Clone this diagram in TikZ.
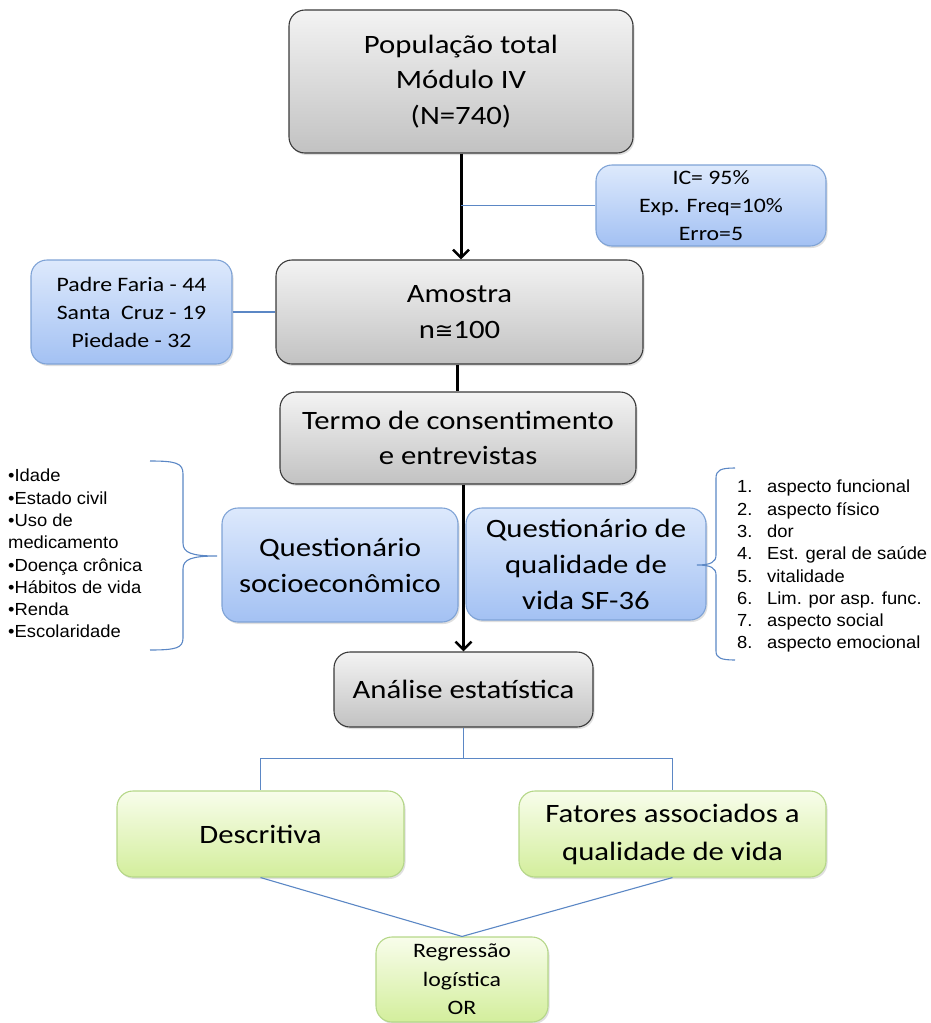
\documentclass[tikz,border=0pt]{standalone}
\usepackage{fontspec}
\setmainfont{Carlito}[FakeStretch=1.16]
\newfontfamily\arialf{Liberation Sans}[FakeStretch=1.05]
\newfontfamily\symf{DejaVu Sans}
\usetikzlibrary{shadows,arrows.meta}
\definecolor{gtop}{HTML}{F3F3F3}
\definecolor{gbot}{HTML}{C2C2C2}
\definecolor{gline}{HTML}{3A3A3A}
\definecolor{btop}{HTML}{DDE9FC}
\definecolor{bbot}{HTML}{A3C1F3}
\definecolor{bline}{HTML}{7FA3D6}
\definecolor{ntop}{HTML}{F8FDEB}
\definecolor{nbot}{HTML}{D3EE9C}
\definecolor{nline}{HTML}{B5D788}
\definecolor{conn}{HTML}{5B87C5}
\begin{document}
\begin{tikzpicture}[x=1pt,y=-1pt,
  box/.style={rounded corners=16pt, align=center, inner sep=0pt, line width=1.1pt, text=black,
    drop shadow={opacity=0.25, shadow xshift=1.5pt, shadow yshift=-2pt}},
  graybox/.style={box, draw=gline, top color=gtop, bottom color=gbot, font=\fontsize{26.5}{35.5}\selectfont},
  bluebig/.style={box, draw=bline, top color=btop, bottom color=bbot, font=\fontsize{26.5}{36}\selectfont},
  bluesmall/.style={box, draw=bline, top color=btop, bottom color=bbot, font=\fontsize{20.5}{28}\selectfont},
  greenbig/.style={box, draw=nline, top color=ntop, bottom color=nbot, font=\fontsize{26.5}{38}\selectfont},
  greensmall/.style={box, draw=nline, top color=ntop, bottom color=nbot, font=\fontsize{20.5}{28.5}\selectfont},
  mainarrow/.style={line width=3pt, black, -{Straight Barb[length=8pt,width=16pt,line width=2.5pt]}},
  mainline/.style={line width=3pt, black},
  thin/.style={conn, line width=1.1pt},
  listtext/.style={align=left, inner sep=0pt, font=\arialf\fontsize{17.5}{22.3}\selectfont}
]
\useasboundingbox (0,0) rectangle (931,1023);

% nodes
\node[graybox, minimum width=344pt, minimum height=143pt] (pop) at (461,81.5) {População total\\Módulo IV\\(N=740)};
\node[bluesmall, minimum width=230pt, minimum height=81pt] (ic) at (711,205.5) {IC= 95\%\\Exp. Freq=10\%\\Erro=5};
\node[graybox, minimum width=367pt, minimum height=104pt] (amostra) at (459.5,312) {Amostra\\n{\symf\fontsize{22}{22}\selectfont ≅}100};
\node[bluesmall, minimum width=201pt, minimum height=104pt] (padre) at (131.5,312) {Padre Faria - 44\\Santa~~Cruz - 19\\Piedade - 32};
\node[graybox, minimum width=356pt, minimum height=92pt] (termo) at (458,438) {Termo de consentimento\\e entrevistas};
\node[bluebig, minimum width=236pt, minimum height=114pt] (qse) at (340,565) {Questionário\\socioeconômico};
\node[bluebig, minimum width=240pt, minimum height=112pt] (qsf) at (586,564) {Questionário de\\qualidade de\\vida SF-36};
\node[graybox, minimum width=259pt, minimum height=75pt] (analise) at (463.5,689.5) {Análise estatística};
\node[greenbig, minimum width=287pt, minimum height=86pt] (desc) at (260.5,834) {Descritiva};
\node[greenbig, minimum width=307pt, minimum height=86pt] (fat) at (672.5,834) {Fatores associados a\\qualidade de vida};
\node[greensmall, minimum width=172pt, minimum height=85pt] (reg) at (462,979.5) {Regressão\\logística\\OR};

% lists
\node[listtext, anchor=north west] (leftlist) at (8,469) {•Idade\\•Estado civil\\•Uso de\\medicamento\\•Doença crônica\\•Hábitos de vida\\•Renda\\•Escolaridade};
\node[listtext, anchor=north west] (rightlist) at (737,480) {%
\makebox[30pt][l]{1.}aspecto funcional\\
\makebox[30pt][l]{2.}aspecto físico\\
\makebox[30pt][l]{3.}dor\\
\makebox[30pt][l]{4.}Est. geral de saúde\\
\makebox[30pt][l]{5.}vitalidade\\
\makebox[30pt][l]{6.}Lim. por asp. func.\\
\makebox[30pt][l]{7.}aspecto social\\
\makebox[30pt][l]{8.}aspecto emocional};

% braces
\draw[thin] (150,461) .. controls (176,461) and (183,463) .. (183,474) -- (183,543)
  .. controls (183,553) and (192,556) .. (217,556)
  .. controls (192,556) and (183,559) .. (183,569) -- (183,638)
  .. controls (183,648) and (176,650) .. (150,650);
\draw[thin] (735,468) .. controls (721,468) and (716,470) .. (716,478) -- (716,555)
  .. controls (716,562) and (711,565) .. (697,565)
  .. controls (711,565) and (716,568) .. (716,575) -- (716,651)
  .. controls (716,658) and (721,660) .. (735,660);

% connectors
\draw[mainarrow] (pop.south) -- (pop.south |- amostra.north);
\draw[thin] (ic.west) -- (ic.west -| pop.south);
\draw[thin] (padre.east) -- (amostra.west);
\draw[mainline] (amostra.south -| 457.5,0) -- (termo.north -| 457.5,0);
\draw[mainarrow] (termo.south -| analise.north) -- (analise.north);
\draw[thin] (analise.south) -- ++(0,30.5) coordinate (split) -| (desc.north);
\draw[thin] (split) -| (fat.north);
\draw[thin] (desc.south) -- (reg.north);
\draw[thin] (fat.south) -- (reg.north);
\end{tikzpicture}
\end{document}
